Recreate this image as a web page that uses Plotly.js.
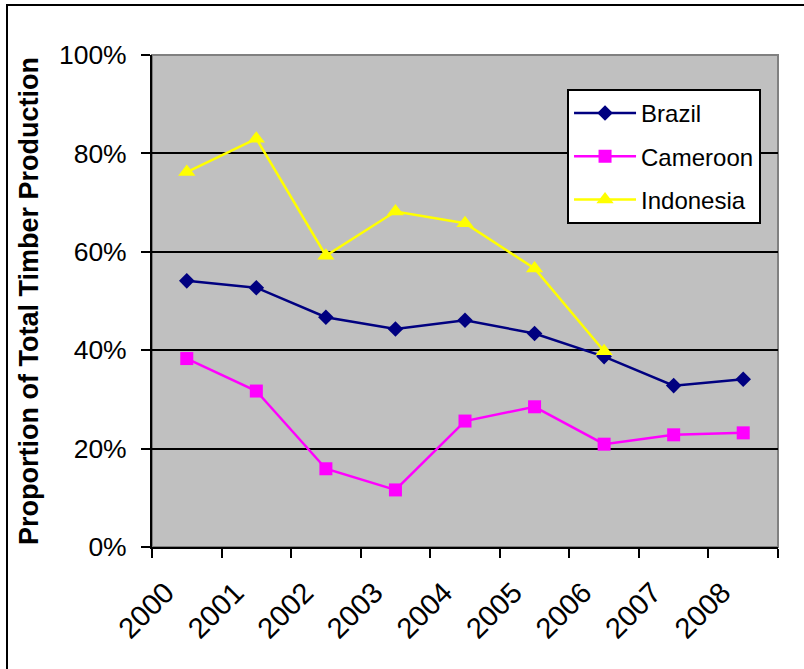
<!DOCTYPE html>
<html>
<head>
<meta charset="utf-8">
<script src="https://cdn.plot.ly/plotly-3.0.1.min.js"></script>
<style>
  html, body { margin: 0; padding: 0; width: 804px; height: 669px; overflow: hidden; background: #fff; }
  #frame { position: absolute; left: 6px; top: 4px; width: 900px; height: 800px; border: 2px solid #000; box-sizing: border-box; pointer-events: none; }
  #chart { position: absolute; left: 0; top: 0; width: 804px; height: 669px; }
</style>
</head>
<body>
<div id="chart"></div>
<div id="frame"></div>
<script>
const years = ['2000', '2001', '2002', '2003', '2004', '2005', '2006', '2007', '2008'];
const brazil = [0.541, 0.527, 0.467, 0.443, 0.461, 0.434, 0.387, 0.328, 0.341];
const cameroon = [0.383, 0.317, 0.159, 0.116, 0.256, 0.285, 0.209, 0.228, 0.232];
const indonesiaYears = ['2000', '2001', '2002', '2003', '2004', '2005', '2006'];
const indonesia = [0.762, 0.830, 0.592, 0.682, 0.658, 0.566, 0.398];
const yTickVals = [0, 0.2, 0.4, 0.6, 0.8, 1.0];

const FONT = 'Liberation Sans, Arial, sans-serif';

const traces = [
  { x: years, y: brazil, name: 'Brazil', type: 'scatter', mode: 'lines+markers', legendgroup: 'a',
    line: { color: '#000080', width: 2.5 }, marker: { symbol: 'diamond', size: 12, color: '#000080' } },
  { x: years, y: cameroon, name: 'Cameroon', type: 'scatter', mode: 'lines+markers', legendgroup: 'b',
    line: { color: '#FF00FF', width: 2.5 }, marker: { symbol: 'square', size: 13, color: '#FF00FF' } },
  { x: indonesiaYears, y: indonesia, name: 'Indonesia', type: 'scatter', mode: 'lines+markers', legendgroup: 'c',
    line: { color: '#FFFF00', width: 2.5 }, marker: { symbol: 'triangle-up', size: 15, color: '#FFFF00' } }
];

const layout = {
  width: 804, height: 669,
  margin: { l: 152, r: 26, t: 55, b: 122, pad: 0 },
  paper_bgcolor: '#ffffff',
  plot_bgcolor: '#C0C0C0',
  font: { family: FONT, color: '#000', size: 25 },
  showlegend: true,
  legend: {
    x: 0.663, y: 0.931, xanchor: 'left', yanchor: 'top',
    bgcolor: '#ffffff', bordercolor: '#000', borderwidth: 2,
    font: { family: FONT, size: 24, color: '#000' },
    itemwidth: 62,
    traceorder: 'grouped', tracegroupgap: 9
  },
  xaxis: {
    type: 'category', categoryorder: 'array', categoryarray: years,
    range: [-0.5, 8.5], tickson: 'boundaries',
    showgrid: false, zeroline: false,
    showline: true, linecolor: '#000', linewidth: 2,
    ticks: 'outside', ticklen: 9, tickwidth: 2, tickcolor: '#000',
    tickangle: -45, ticklabelshift: -21, ticklabelstandoff: 15,
    tickfont: { family: FONT, size: 29, color: '#000' }
  },
  yaxis: {
    range: [0, 1], tickvals: yTickVals, tickformat: '.0%',
    showgrid: true, gridcolor: '#000', gridwidth: 2, zeroline: false,
    showline: true, linecolor: '#000', linewidth: 2,
    ticks: 'outside', ticklen: 9, tickwidth: 2, tickcolor: '#000',
    ticklabelstandoff: 9,
    tickfont: { family: FONT, size: 26.5, color: '#000' },
    title: { text: 'Proportion of Total Timber Production', font: { family: FONT, size: 27, color: '#000', weight: 'bold' }, standoff: 12 }
  },
  shapes: [
    { type: 'rect', xref: 'paper', yref: 'paper', x0: 0, x1: 1, y0: 0, y1: 1,
      line: { color: '#808080', width: 2 }, fillcolor: 'rgba(0,0,0,0)', layer: 'below' }
  ]
};

Plotly.newPlot('chart', traces, layout, { displayModeBar: false, staticPlot: true });
</script>
</body>
</html>
